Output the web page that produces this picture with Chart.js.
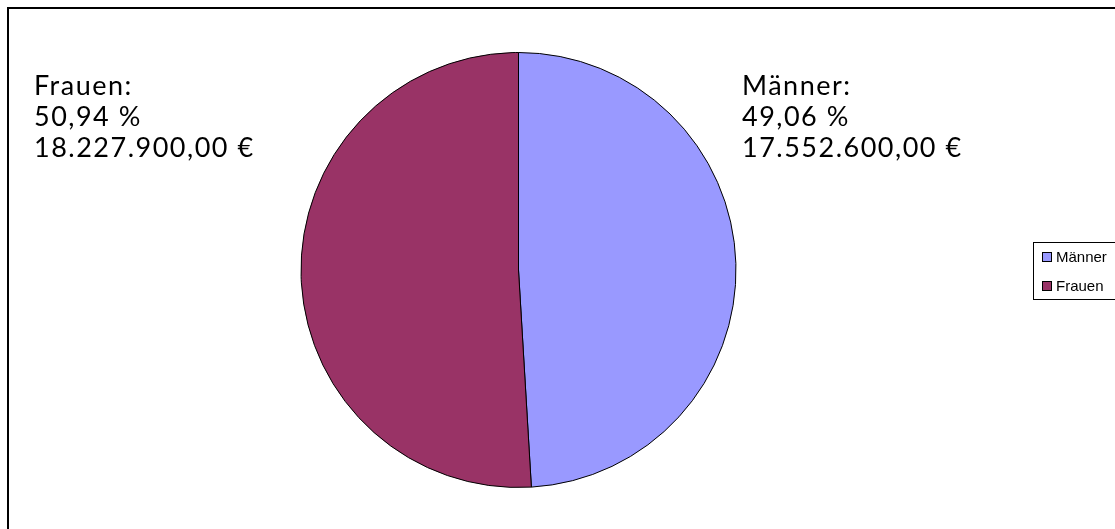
<!DOCTYPE html>
<html>
<head>
<meta charset="utf-8">
<script src="https://cdn.jsdelivr.net/npm/chart.js@4"></script>
<style>
  html, body { margin: 0; padding: 0; background: #fff; overflow: hidden; }
  #wrap { position: relative; width: 1115px; height: 529px; }
  #frame { position: absolute; left: 7px; top: 7px; width: 1200px; height: 600px; border: 2px solid #000; box-sizing: border-box; }
  canvas { position: absolute; left: 0; top: 0; }
  #legend { position: absolute; left: 1033px; top: 242px; width: 120px; height: 58px; border: 1px solid #000; box-sizing: border-box;
            font-family: "Liberation Sans", Arial, sans-serif; font-size: 15px; color: #000; }
  #legend div { position: absolute; left: 8px; white-space: nowrap; }
  #legend span { display: inline-block; width: 8px; height: 8px; border: 1px solid #000; margin-right: 4px; vertical-align: 0px; }
</style>
</head>
<body>
<div id="wrap">
  <div id="frame"></div>
  <canvas id="c" width="1115" height="529"></canvas>
  <div id="legend"></div>
</div>
<script>
const categories = ['Männer', 'Frauen'];
const amounts = [17552600, 18227900];
const percentLabels = ['49,06 %', '50,94 %'];
const amountLabels = ['17.552.600,00 €', '18.227.900,00 €'];
const colors = ['#9999FF', '#993366'];

// legend
const legend = document.getElementById('legend');
categories.forEach((name, i) => {
  const d = document.createElement('div');
  d.style.top = (5 + i * 29) + 'px';
  d.innerHTML = '<span style="background:' + colors[i] + '"></span>' + name;
  legend.appendChild(d);
});

// labels beside the pie (Excel style)
const labelPos = [[742, 86], [34, 86]];
const labelPlugin = {
  id: 'sideLabels',
  afterDraw(chart) {
    const ctx = chart.ctx;
    ctx.save();
    ctx.fillStyle = '#000';
    ctx.font = '400 27px Lato, "Open Sans", sans-serif';
    ctx.letterSpacing = '1.5px';
    ctx.textAlign = 'left';
    ctx.textBaseline = 'middle';
    categories.forEach((name, i) => {
      const [x, y] = labelPos[i];
      ctx.fillText(name + ':', x, y);
      ctx.fillText(percentLabels[i], x, y + 31);
      ctx.fillText(amountLabels[i], x, y + 62);
    });
    ctx.restore();
  }
};

new Chart(document.getElementById('c').getContext('2d'), {
  type: 'pie',
  data: {
    labels: categories,
    datasets: [{
      data: amounts,
      backgroundColor: colors,
      borderColor: '#000',
      borderWidth: 1
    }]
  },
  options: {
    responsive: false,
    animation: false,
    layout: { padding: { left: 300, right: 378, top: 52, bottom: 41 } },
    plugins: { legend: { display: false }, tooltip: { enabled: false } }
  },
  plugins: [labelPlugin]
});
</script>
</body>
</html>
